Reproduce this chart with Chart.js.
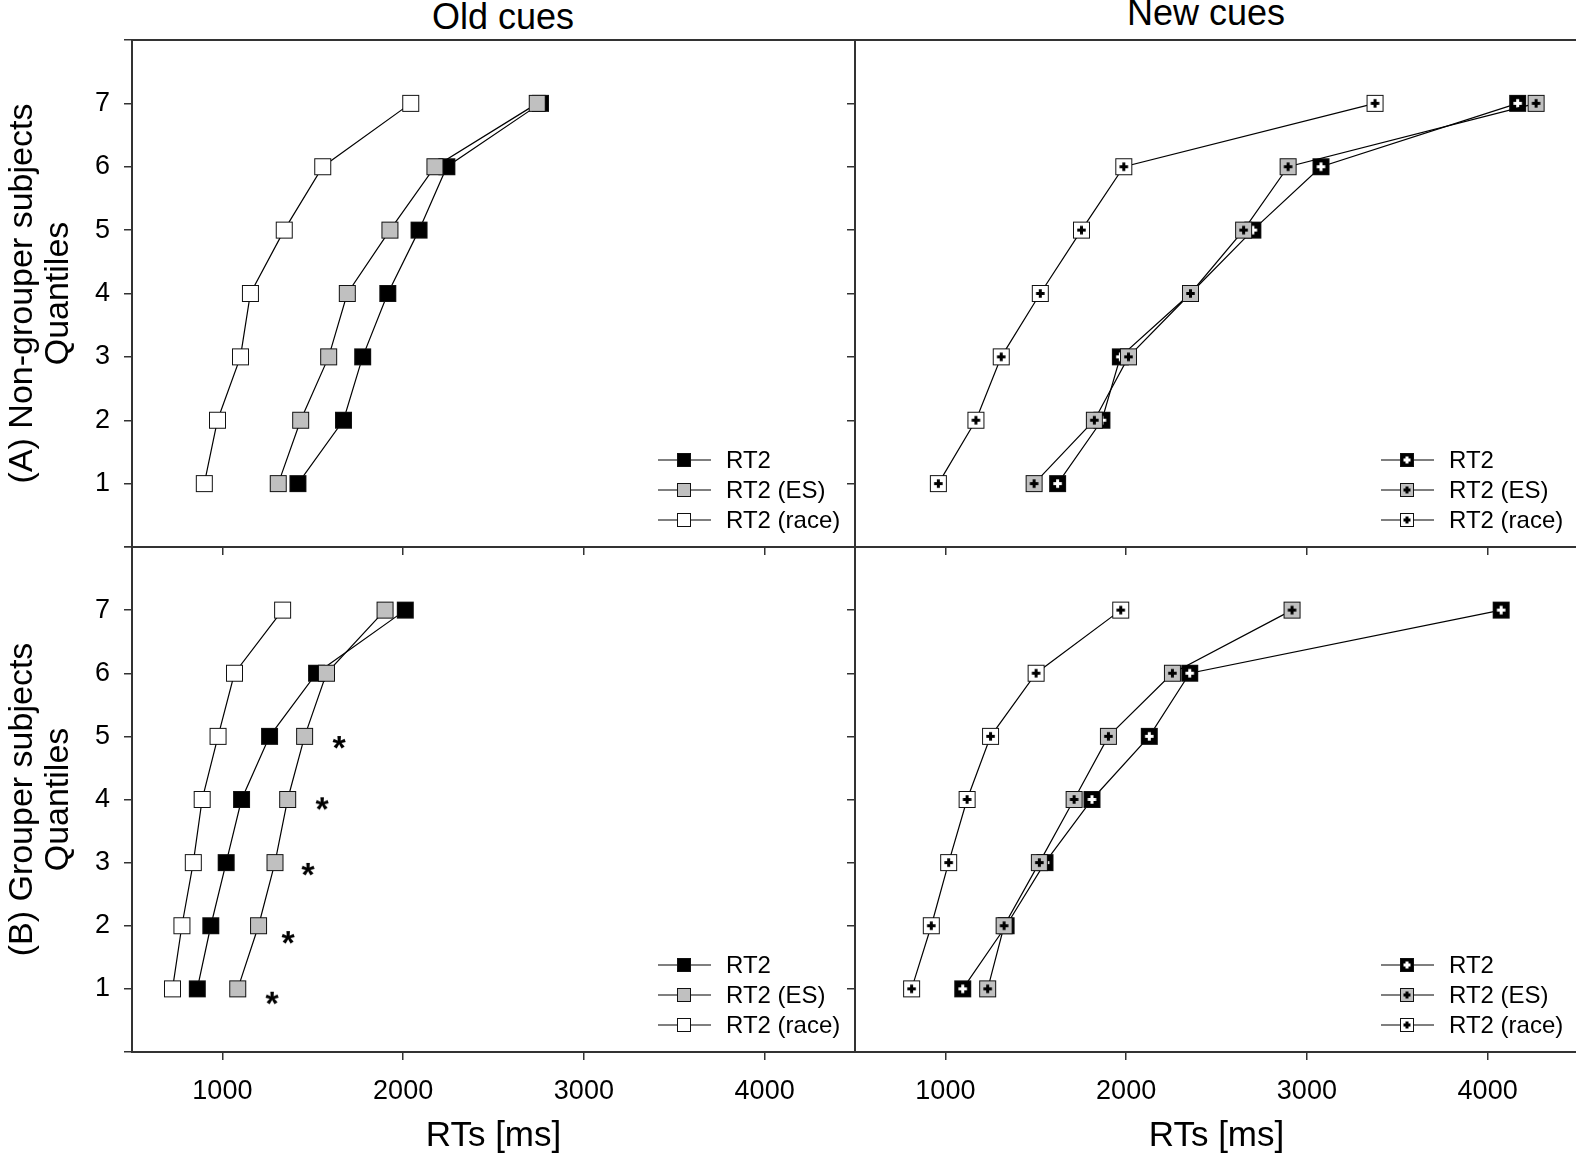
<!DOCTYPE html>
<html>
<head>
<meta charset="utf-8">
<script src="https://cdn.jsdelivr.net/npm/chart.js@4.4.1/dist/chart.umd.min.js"></script>
<style>
  body { margin: 0; width: 1576px; height: 1161px; overflow: hidden; background: #fff; position: relative;
         font-family: "Liberation Sans", Arial, sans-serif; }
  canvas { position: absolute; }
  .title { position: absolute; font-size: 36px; line-height: 40px; white-space: nowrap; transform: translateX(-50%); }
</style>
</head>
<body>
<div class="title" style="left:503px; top:-3px">Old cues</div>
<div class="title" style="left:1206px; top:-7px">New cues</div>
<canvas id="oldNon" width="860" height="557" style="left:0; top:0"></canvas>
<canvas id="newNon" width="735" height="557" style="left:845px; top:0"></canvas>
<canvas id="oldGrp" width="860" height="624" style="left:0; top:537px"></canvas>
<canvas id="newGrp" width="735" height="624" style="left:845px; top:537px"></canvas>
<script>
// quantile levels and axis ticks
const quantiles = [1, 2, 3, 4, 5, 6, 7];
const xTicks = [1000, 2000, 3000, 4000];
const xLabels = ["1000", "2000", "3000", "4000"];
const yTicks = [0, 1, 2, 3, 4, 5, 6, 7, 8];
const yLabels = ["", "1", "2", "3", "4", "5", "6", "7", ""];
const seriesNames = ["RT2", "RT2 (ES)", "RT2 (race)"];

// (A) non-grouper subjects, RTs in ms
const oldNonRT2  = [1418, 1670, 1776, 1915, 2088, 2242, 2760];
const oldNonES   = [1309, 1433, 1588, 1691, 1927, 2176, 2742];
const oldNonRace = [900, 973, 1100, 1155, 1342, 1555, 2042];
const newNonRT2  = [1621, 1866, 1968, 2356, 2701, 3078, 4166];
const newNonES   = [1491, 1824, 2013, 2356, 2650, 2896, 4268];
const newNonRace = [961, 1169, 1309, 1525, 1753, 1987, 3377];

// (B) grouper subjects
const oldGrpRT2  = [861, 936, 1021, 1106, 1261, 1521, 2012];
const oldGrpES   = [1085, 1200, 1291, 1361, 1455, 1576, 1900];
const oldGrpRace = [724, 776, 839, 888, 976, 1067, 1333];
const newGrpRT2  = [1096, 1336, 1551, 1811, 2128, 2352, 4075];
const newGrpES   = [1234, 1325, 1520, 1712, 1902, 2256, 2918];
const newGrpRace = [813, 922, 1018, 1120, 1250, 1502, 1970];

// significance stars (old cues, grouper)
const starX = [1274, 1363, 1473, 1551, 1645];
const starY = [0.86, 1.82, 2.90, 3.94, 4.91];

const axisColor = "#333";
const fills = ["#000", "#c0c0c0", "#fff"];
const crossFills = ["#fff", "#000", "#000"];

Chart.defaults.font.family = '"Liberation Sans", Arial, sans-serif';
Chart.defaults.color = "#000";

function marker(fill, cross, size) {
  const c = document.createElement("canvas");
  c.width = size + 2;
  c.height = size + 2;
  const g = c.getContext("2d");
  g.fillStyle = fill;
  g.fillRect(1, 1, size, size);
  g.strokeStyle = "#111";
  g.lineWidth = 1;
  g.strokeRect(1.5, 1.5, size - 1, size - 1);
  if (cross) {
    const m = (size + 2) / 2;
    const a = size * 0.25, t = 1.5;
    g.fillStyle = cross;
    g.fillRect(m - a, m - t, 2 * a, 2 * t);
    g.fillRect(m - t, m - a, 2 * t, 2 * a);
  }
  return c;
}

function starMark() {
  const c = document.createElement("canvas");
  c.width = 26;
  c.height = 26;
  const g = c.getContext("2d");
  g.font = 'bold 34px "Liberation Sans"';
  g.textAlign = "center";
  g.textBaseline = "alphabetic";
  const m = g.measureText("*");
  const base = 13 - (m.actualBoundingBoxDescent - m.actualBoundingBoxAscent) / 2;
  g.fillStyle = "#000";
  g.fillText("*", 13, base);
  return c;
}

// draws the top/right edges of the panel box
const framePlugin = {
  id: "frame",
  afterDraw(chart) {
    const { ctx, chartArea: a } = chart;
    ctx.save();
    ctx.strokeStyle = axisColor;
    ctx.lineWidth = 2;
    ctx.beginPath();
    ctx.moveTo(a.left, a.top);
    ctx.lineTo(a.right, a.top);
    ctx.lineTo(a.right, a.bottom);
    ctx.stroke();
    ctx.restore();
  }
};

// legend in the lower right of the panel
const boxLegend = {
  id: "boxLegend",
  afterDraw(chart) {
    const { ctx, chartArea: a } = chart;
    const rows = chart.data.datasets.filter((d) => d.legendImg);
    ctx.save();
    ctx.font = '24px "Liberation Sans", Arial, sans-serif';
    ctx.textBaseline = "middle";
    ctx.fillStyle = "#000";
    rows.forEach((d, i) => {
      const y = a.bottom - 87 + i * 30;
      ctx.strokeStyle = "#000";
      ctx.lineWidth = 1.2;
      ctx.beginPath();
      ctx.moveTo(a.left + 526, y);
      ctx.lineTo(a.left + 579, y);
      ctx.stroke();
      ctx.drawImage(d.legendImg, a.left + 552 - d.legendImg.width / 2, y - d.legendImg.height / 2);
      ctx.fillText(d.label, a.left + 594, y + 1);
    });
    ctx.restore();
  }
};

function makeChart(id, series, opt) {
  const datasets = series.map((vals, i) => ({
    label: seriesNames[i],
    data: vals.map((v, k) => ({ x: v, y: quantiles[k] })),
    borderColor: "#000",
    borderWidth: 1.2,
    pointStyle: marker(fills[i], opt.cross ? crossFills[i] : null, 17),
    legendImg: marker(fills[i], opt.cross ? crossFills[i] : null, 14),
    pointRadius: 8,
    order: 3 - i,
  }));
  if (opt.stars) {
    datasets.push({
      label: "*",
      data: starX.map((v, k) => ({ x: v, y: starY[k] })),
      showLine: false,
      pointStyle: starMark(),
      pointRadius: 8,
      order: 0,
    });
  }
  return new Chart(document.getElementById(id), {
    type: "line",
    data: { datasets },
    plugins: [framePlugin, boxLegend],
    options: {
      responsive: false,
      animation: false,
      events: [],
      layout: { padding: opt.pad, autoPadding: false },
      plugins: { legend: { display: false }, tooltip: { enabled: false } },
      scales: {
        x: {
          type: "linear",
          min: 500,
          max: 4500,
          afterBuildTicks: (s) => { s.ticks = xTicks.map((v) => ({ value: v })); },
          afterFit: (s) => {
            s.height = opt.xHeight;
            s.paddingLeft = s.paddingRight = s.paddingTop = s.paddingBottom = 0;
          },
          ticks: {
            autoSkip: false,
            maxRotation: 0,
            padding: 15,
            font: { size: 27 },
            callback: (v, i) => (opt.xTitle ? xLabels[i] : ""),
          },
          grid: { drawOnChartArea: false, tickLength: 8, color: axisColor, lineWidth: 1.5 },
          border: { color: axisColor, width: 2 },
          title: {
            display: !!opt.xTitle,
            text: opt.xTitle || "",
            font: { size: 35 },
            padding: { top: 0, bottom: 4 },
          },
        },
        y: {
          type: "linear",
          min: 0,
          max: 8,
          afterBuildTicks: (s) => { s.ticks = yTicks.map((v) => ({ value: v })); },
          afterFit: (s) => {
            s.width = opt.yWidth;
            s.paddingLeft = s.paddingRight = s.paddingTop = s.paddingBottom = 0;
          },
          ticks: {
            autoSkip: false,
            padding: 14,
            font: { size: 27 },
            callback: (v, i) => (opt.yTitle ? yLabels[i] : ""),
          },
          grid: { drawOnChartArea: false, tickLength: 8, color: axisColor, lineWidth: 1.5 },
          border: { color: axisColor, width: 2 },
          title: {
            display: !!opt.yTitle,
            text: opt.yTitle || "",
            font: { size: 34, lineHeight: 1.07 },
            padding: { top: 4, bottom: 0 },
          },
        },
      },
    },
  });
}

makeChart("oldNon", [oldNonRT2, oldNonES, oldNonRace], {
  pad: { top: 40, right: 5, left: 0, bottom: 0 }, xHeight: 10, yWidth: 132,
  yTitle: ["(A) Non-grouper subjects", "Quantiles"], cross: false,
});
makeChart("newNon", [newNonRT2, newNonES, newNonRace], {
  pad: { top: 40, right: 2, left: 0, bottom: 0 }, xHeight: 10, yWidth: 10, cross: true,
});
makeChart("oldGrp", [oldGrpRT2, oldGrpES, oldGrpRace], {
  pad: { top: 10, right: 5, left: 0, bottom: 0 }, xHeight: 109, yWidth: 132,
  yTitle: ["(B) Grouper subjects", "Quantiles"], xTitle: "RTs [ms]", cross: false, stars: true,
});
makeChart("newGrp", [newGrpRT2, newGrpES, newGrpRace], {
  pad: { top: 10, right: 2, left: 0, bottom: 0 }, xHeight: 109, yWidth: 10,
  xTitle: "RTs [ms]", cross: true,
});
</script>
</body>
</html>
